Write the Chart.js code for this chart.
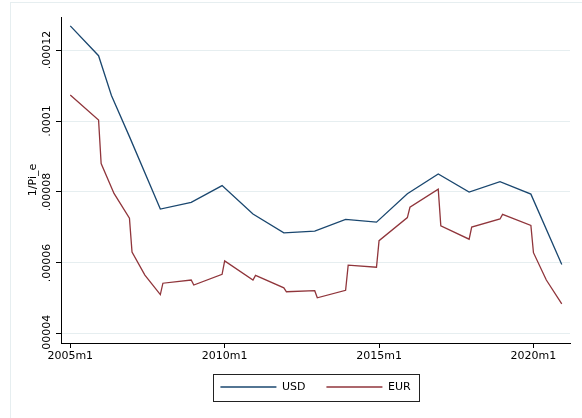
<!DOCTYPE html>
<html>
<head>
<meta charset="utf-8">
<script src="https://cdn.jsdelivr.net/npm/chart.js@4"></script>
<style>
  html, body { margin: 0; padding: 0; background: #fff; }
  canvas { display: block; }
</style>
</head>
<body>
<canvas id="chart" width="582" height="418"></canvas>
<script>
// x = months since 2005m1
const usdMonths = [0, 11, 16, 23, 35, 47, 59, 71, 83, 95, 107, 119, 131, 143, 155, 167, 179, 191];
const usdValues = [12.68e-5, 11.84e-5, 10.72e-5, 9.56e-5, 7.52e-5, 7.71e-5, 8.18e-5, 7.38e-5, 6.85e-5,
                   6.90e-5, 7.23e-5, 7.15e-5, 7.95e-5, 8.51e-5, 8.00e-5, 8.29e-5, 7.94e-5, 5.96e-5];

const eurMonths = [0, 11, 12, 17, 23, 24, 29, 35, 36, 47, 48, 59, 60, 71, 72, 83, 84, 95, 96,
                   107, 108, 119, 120, 131, 132, 143, 144, 155, 156, 167, 168, 179, 180, 185, 191];
const eurValues = [10.73e-5, 10.03e-5, 8.80e-5, 7.96e-5, 7.26e-5, 6.31e-5, 5.66e-5, 5.11e-5, 5.43e-5,
                   5.52e-5, 5.38e-5, 5.68e-5, 6.06e-5, 5.52e-5, 5.65e-5, 5.30e-5, 5.19e-5, 5.22e-5,
                   5.02e-5, 5.23e-5, 5.94e-5, 5.88e-5, 6.63e-5, 7.28e-5, 7.57e-5, 8.08e-5, 7.05e-5,
                   6.67e-5, 7.01e-5, 7.24e-5, 7.37e-5, 7.06e-5, 6.29e-5, 5.52e-5, 4.85e-5];

const xTickMonths = [0, 60, 120, 180];
const xTickLabels = ['2005m1', '2010m1', '2015m1', '2020m1'];
const yTickValues = [4e-5, 6e-5, 8e-5, 10e-5, 12e-5];
const yTickLabels = ['.00004', '.00006', '.00008', '.0001', '.00012'];

const FONT = { family: 'DejaVu Sans', size: 11 };
const GRID = '#e6eef0';

const toPoints = (xs, ys) => xs.map((x, i) => ({ x, y: ys[i] }));

// graph region outline + legend box
const frame = {
  id: 'frame',
  beforeDraw(chart) {
    const ctx = chart.ctx;
    ctx.save();
    ctx.strokeStyle = GRID;
    ctx.lineWidth = 1;
    ctx.strokeRect(10.5, 2.5, chart.width, chart.height);
    ctx.restore();
  },
  afterDraw(chart) {
    const boxes = chart.legend.legendHitBoxes;
    if (!boxes || !boxes.length) return;
    const first = boxes[0], last = boxes[boxes.length - 1];
    const cy = first.top + first.height / 2;
    const left  = Math.round(first.left - 7) + 0.5;
    const right = Math.round(last.left + last.width + 8) + 0.5;
    const top   = Math.round(cy - 13.5) + 0.5;
    const ctx = chart.ctx;
    ctx.save();
    ctx.strokeStyle = '#222';
    ctx.lineWidth = 1;
    ctx.strokeRect(left, top, right - left, 27);
    ctx.restore();
  }
};

new Chart(document.getElementById('chart').getContext('2d'), {
  type: 'line',
  data: {
    datasets: [
      { label: 'USD', data: toPoints(usdMonths, usdValues), borderColor: '#1a476f', backgroundColor: '#1a476f',
        borderWidth: 1.3, pointRadius: 0, tension: 0 },
      { label: 'EUR', data: toPoints(eurMonths, eurValues), borderColor: '#90353b', backgroundColor: '#90353b',
        borderWidth: 1.3, pointRadius: 0, tension: 0 }
    ]
  },
  options: {
    responsive: false,
    animation: false,
    layout: { padding: { top: 17, right: 12, left: 0, bottom: 15.5 } },
    plugins: {
      legend: {
        position: 'bottom',
        fullSize: false,
        labels: {
          usePointStyle: true,
          pointStyle: 'line',
          pointStyleWidth: 56,
          padding: 21,
          color: '#000',
          font: FONT
        }
      },
      tooltip: { enabled: false }
    },
    scales: {
      x: {
        type: 'linear',
        min: -3.6,
        max: 194.2,
        afterBuildTicks: s => { s.ticks = xTickMonths.map(v => ({ value: v })); },
        afterFit: s => { s.height = 17.5; },
        ticks: {
          callback: (v, i) => xTickLabels[i],
          color: '#000', font: FONT, padding: 2,
          maxRotation: 0, autoSkip: false
        },
        grid: { drawOnChartArea: false, tickLength: 5, tickColor: '#000' },
        border: { color: '#000' }
      },
      y: {
        type: 'linear',
        min: 3.746e-5,
        max: 12.93e-5,
        afterBuildTicks: s => { s.ticks = yTickValues.map(v => ({ value: v })); },
        afterFit: s => { s.width = 61; },
        ticks: {
          callback: (v, i) => yTickLabels[i],
          color: '#000', font: FONT,
          minRotation: 90, maxRotation: 90,
          crossAlign: 'center', padding: -10
        },
        grid: { color: GRID, tickLength: 5, tickColor: '#000' },
        border: { color: '#000' },
        title: {
          display: true, text: '1/Pi_e', color: '#000', font: FONT,
          padding: { top: 27, bottom: 0 }
        }
      }
    }
  },
  plugins: [frame]
});
</script>
</body>
</html>
